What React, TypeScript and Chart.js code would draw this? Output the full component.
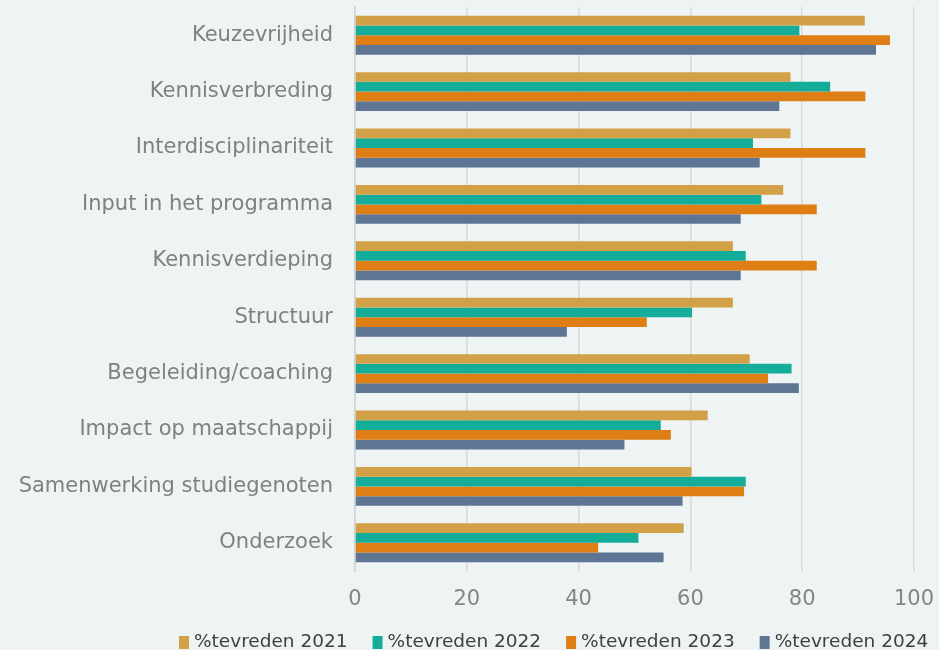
import React, { useEffect, useRef } from 'react';
import { Chart, registerables } from 'chart.js';

Chart.register(...registerables);

const categories = [
  'Keuzevrijheid',
  'Kennisverbreding',
  'Interdisciplinariteit',
  'Input in het programma',
  'Kennisverdieping',
  'Structuur',
  'Begeleiding/coaching',
  'Impact op maatschappij',
  'Samenwerking studiegenoten',
  'Onderzoek',
];

const seriesLabels = ['%tevreden 2021', '%tevreden 2022', '%tevreden 2023', '%tevreden 2024'];

const tevreden2021 = [91.2, 77.9, 77.9, 76.6, 67.6, 67.6, 70.6, 63.1, 60.2, 58.8];
const tevreden2022 = [79.5, 85.0, 71.2, 72.7, 69.9, 60.3, 78.1, 54.7, 69.9, 50.7];
const tevreden2023 = [95.7, 91.3, 91.3, 82.6, 82.6, 52.2, 73.9, 56.5, 69.6, 43.5];
const tevreden2024 = [93.2, 75.9, 72.4, 69.0, 69.0, 37.9, 79.4, 48.2, 58.6, 55.2];

const xMin = 0;
const xMax = 100;
const xStep = 20;

const colors = ['#D2A046', '#14AD9A', '#DF7E14', '#5F7594'];
const FONT = '"DejaVu Sans", Verdana, sans-serif';

const legendPlugin = {
  id: 'customLegend',
  afterDraw(chart: any) {
    const ctx = chart.ctx;
    ctx.save();
    ctx.font = `18.5px ${FONT}`;
    ctx.textBaseline = 'middle';
    ctx.textAlign = 'left';
    let x = 179;
    const y = 642;
    chart.data.datasets.forEach((ds: any) => {
      ctx.fillStyle = ds.backgroundColor;
      ctx.fillRect(x, y - 6, 10, 13);
      ctx.fillStyle = '#404040';
      ctx.fillText(ds.label, x + 15, y);
      x += 15 + ctx.measureText(ds.label).width + 25;
    });
    ctx.restore();
  },
};

export default function App() {
  const ref = useRef<HTMLCanvasElement | null>(null);

  useEffect(() => {
    if (!ref.current) return;
    const seriesData = [tevreden2021, tevreden2022, tevreden2023, tevreden2024];
    const chart = new Chart(ref.current, {
      type: 'bar',
      data: {
        labels: categories,
        datasets: seriesData.map((d, i) => ({
          label: seriesLabels[i],
          data: d,
          backgroundColor: colors[i],
          borderWidth: 0,
          categoryPercentage: 0.69,
          barPercentage: 1.0,
        })),
      },
      options: {
        indexAxis: 'y',
        responsive: false,
        animation: false,
        layout: { padding: { top: 7, right: 25, left: 0, bottom: 0 } },
        plugins: {
          legend: { display: false },
          tooltip: { enabled: false },
        },
        scales: {
          x: {
            min: xMin,
            max: xMax,
            ticks: {
              stepSize: xStep,
              color: '#858585',
              font: { family: FONT, size: 21 },
              padding: 16,
            },
            grid: { color: '#D6D9D9', lineWidth: 1.5, drawTicks: false },
            border: { display: false },
            afterFit: (scale: any) => {
              scale.height = 79;
              scale.paddingLeft = 0;
              scale.paddingRight = 0;
            },
          },
          y: {
            ticks: {
              color: '#808080',
              font: { family: FONT, size: 21 },
              padding: 22,
            },
            grid: { display: false, drawTicks: false },
            border: { display: true, color: '#D0D3D3', width: 1.5 },
            afterFit: (scale: any) => {
              scale.width = 355;
              scale.paddingTop = 0;
              scale.paddingBottom = 0;
            },
          },
        },
      },
      plugins: [legendPlugin],
    });
    return () => chart.destroy();
  }, []);

  return (
    <div
      style={{
        position: 'fixed',
        left: 0,
        top: 0,
        width: 939,
        height: 650,
        background: '#EEF3F3',
      }}
    >
      <canvas ref={ref} width={939} height={650} style={{ display: 'block' }} />
    </div>
  );
}
